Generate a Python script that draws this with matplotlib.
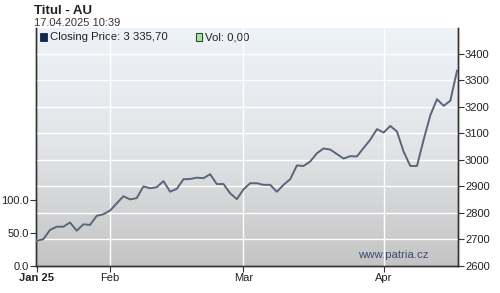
import numpy as np
import pandas as pd
import matplotlib
matplotlib.use("Agg")
import matplotlib.pyplot as plt
from matplotlib.colors import LinearSegmentedColormap

plt.rcParams['font.family'] = ['Liberation Sans', 'DejaVu Sans']

# ---- data ----
start_date = "2025-01-17"
prices = [2695, 2701, 2736, 2748, 2748, 2764, 2733, 2757, 2755, 2789,
          2795, 2809, 2836, 2863, 2851, 2856, 2900, 2893, 2897, 2920,
          2880, 2891, 2927, 2928, 2933, 2931, 2946, 2909, 2909, 2874,
          2852, 2889, 2912, 2912, 2906, 2906, 2880, 2906, 2927, 2979,
          2977, 2994, 3025, 3043, 3039, 3022, 3005, 3014, 3013, 3045,
          3076, 3116, 3103, 3128, 3107, 3031, 2977, 2977, 3076, 3168,
          3229, 3204, 3223, 3336]
month_labels = ["Jan 25", "Feb", "Mar", "Apr"]
price_ticks = [2600, 2700, 2800, 2900, 3000, 3100, 3200, 3300, 3400]
vol_ticks = [0, 50, 100]
vol_tick_labels = ["0.0", "50.0", "100.0"]
title = "Titul - AU"
subtitle = "17.04.2025 10:39"
legend_price = "Closing Price: 3 335,70"
legend_vol = "Vol: 0,00"
watermark = "www.patria.cz"

dates = pd.bdate_range(start_date, periods=len(prices))
x = np.arange(len(prices))
months = dates.month
month_pos = [int(np.argmax(months == m)) for m in sorted(set(months))]

fig = plt.figure(figsize=(5.0, 2.93), dpi=100)
ax = fig.add_axes([0.072, 0.0922, 0.844, 0.812])
ax2 = ax.twinx()

# gradient background
cmap = LinearSegmentedColormap.from_list("bg", ["#c4c4c4", "#e2e4e7", "#eef3f9"])
grad = np.linspace(0, 1, 256).reshape(-1, 1)
ax.imshow(grad, aspect='auto', cmap=cmap, origin='lower',
          extent=[0, 1, 0, 1], transform=ax.transAxes, zorder=0)

xmin, xmax = -0.1, len(prices) - 1 + 0.15
ax.set_xlim(xmin, xmax)
ax.set_ylim(0, 358)
ax2.set_ylim(2600, 3497)
ax2.set_xlim(xmin, xmax)

# grid
for p in price_ticks[1:]:
    ax2.axhline(p, color='white', lw=1.0, zorder=1)
for mp in month_pos[1:]:
    ax2.axvline(mp, color='white', lw=1.0, zorder=1)

ax2.plot(x, prices, color='#5b6579', lw=1.4, zorder=3, solid_joinstyle='round')

# axes styling
for a in (ax, ax2):
    a.spines['top'].set_visible(False)
    for s in ('left', 'right', 'bottom'):
        a.spines[s].set_color('#333333')
        a.spines[s].set_linewidth(1.0)
ax.patch.set_visible(False)

ax.set_yticks(vol_ticks)
ax.set_yticklabels(vol_tick_labels)
ax2.set_yticks(price_ticks)
ax2.set_yticklabels([str(p) for p in price_ticks])
ax.set_xticks(month_pos)
ax.set_xticklabels(month_labels)
ax.get_xticklabels()[0].set_fontweight('bold')

ax.tick_params(axis='y', labelsize=8, length=4, width=0.8, pad=1, colors='#333333', labelcolor='#222222')
ax2.tick_params(axis='y', labelsize=8, length=4, width=0.8, pad=1, colors='#333333', labelcolor='#222222')
ax.tick_params(axis='x', labelsize=8, length=4, width=0.8, pad=1, colors='#333333', labelcolor='#222222')

# texts
fig.text(0.068, 0.962, title, fontsize=9.5, fontweight='bold', color='#222222', va='center', ha='left')
fig.text(0.068, 0.922, subtitle, fontsize=8, color='#333333', va='center', ha='left')

ax.add_patch(plt.Rectangle((0.010, 0.944), 0.016, 0.036, transform=ax.transAxes,
                           facecolor='#14254a', edgecolor='#14254a', lw=0.6, zorder=5))
ax.text(0.033, 0.962, legend_price, transform=ax.transAxes, fontsize=8.2,
        color='#222222', va='center', ha='left')
ax.add_patch(plt.Rectangle((0.378, 0.944), 0.016, 0.036, transform=ax.transAxes,
                           facecolor='#a6e8a0', edgecolor='#2a4a2a', lw=0.8, zorder=5))
ax.text(0.401, 0.962, legend_vol, transform=ax.transAxes, fontsize=8.2,
        color='#222222', va='center', ha='left')

ax.text(0.93, 0.045, watermark, transform=ax.transAxes, fontsize=8.2,
        color='#3a4a70', va='center', ha='right')

fig.savefig("out.png", dpi=100)
